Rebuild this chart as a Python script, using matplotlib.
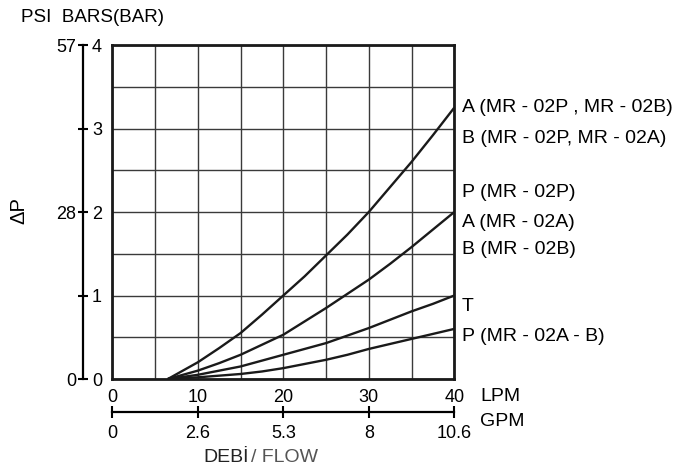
import numpy as np
import matplotlib.pyplot as plt

plt.rcParams['font.family'] = ['Liberation Sans', 'DejaVu Sans']

# flow (LPM) and pressure drop (bar)
flow_lpm = [6.5, 10, 12.5, 15, 17.5, 20, 22.5, 25, 27.5, 30, 32.5, 35, 37.5, 40]
dp_a = [0, 0.2, 0.37, 0.55, 0.77, 1.0, 1.23, 1.48, 1.73, 2.0, 2.3, 2.6, 2.92, 3.25]
dp_p = [0, 0.1, 0.19, 0.29, 0.41, 0.53, 0.69, 0.85, 1.02, 1.19, 1.38, 1.58, 1.79, 2.0]
dp_t = [0, 0.05, 0.1, 0.15, 0.22, 0.29, 0.36, 0.43, 0.52, 0.61, 0.71, 0.81, 0.9, 1.0]
dp_p2 = [0, 0.02, 0.04, 0.06, 0.09, 0.13, 0.18, 0.23, 0.29, 0.36, 0.42, 0.48, 0.54, 0.6]

lpm_ticks = [0, 10, 20, 30, 40]
gpm_labels = ['0', '2.6', '5.3', '8', '10.6']
bar_ticks = [0, 1, 2, 3, 4]
bar_labels = ['0', '1', '2', '3', '4']
psi_labels = ['0', '', '28', '', '57']

curve_labels = ['A (MR - 02P , MR - 02B)', 'B (MR - 02P, MR - 02A)',
                'P (MR - 02P)', 'A (MR - 02A)', 'B (MR - 02B)',
                'T', 'P (MR - 02A - B)']
label_y = [3.25, 2.886, 2.228, 1.88, 1.545, 0.868, 0.509]

W, H = 684, 473
fig = plt.figure(figsize=(W / 100, H / 100), dpi=100)
ax = fig.add_axes([112.3 / W, 1 - 379 / H, 342 / W, 334 / H])

for ys in [dp_a, dp_p, dp_t, dp_p2]:
    ax.plot(flow_lpm, ys, color='#1a1a1a', lw=1.7, solid_capstyle='butt', zorder=3)

ax.set_xlim(0, 40)
ax.set_ylim(0, 4)
ax.set_xticks(lpm_ticks)
ax.set_xticks(np.arange(5, 40, 10), minor=True)
ax.set_yticks(bar_ticks, labels=[])
ax.set_yticks(np.arange(0.5, 4, 1), minor=True)
ax.grid(True, which='both', color='#3a3a3a', lw=1.0)
ax.tick_params(which='both', length=0)
ax.tick_params(axis='x', pad=7, labelsize=13)
for s in ax.spines.values():
    s.set_linewidth(2.0)
    s.set_color('#1a1a1a')

# bar scale (left, detached)
sy = ax.secondary_yaxis(-0.0857)
sy.set_alignment('right')
sy.set_yticks(bar_ticks, labels=bar_labels)
sy.tick_params(direction='inout', length=7, width=1.5, pad=3, labelsize=13)
sy.spines['right'].set_linewidth(1.6)

# psi labels on the other side of the same line
sp = ax.secondary_yaxis(-0.0857)
sp.set_alignment('left')
sp.spines['left'].set_visible(False)
sp.set_yticks(bar_ticks, labels=psi_labels)
sp.tick_params(length=0, pad=5, labelsize=13)

# GPM scale below
sx = ax.secondary_xaxis(-0.099)
sx.set_xticks(lpm_ticks, labels=gpm_labels)
sx.tick_params(direction='inout', length=9, width=1.5, pad=5, labelsize=13)
sx.spines['bottom'].set_linewidth(1.6)

for txt, y in zip(curve_labels, label_y):
    ax.text(40.9, y, txt, ha='left', va='center', fontsize=14, clip_on=False)

fig.text(21 / W, 1 - 17 / H, 'PSI  BARS(BAR)', ha='left', va='center', fontsize=13.5)
fig.text(18.5 / W, 1 - 211 / H, 'ΔP', ha='center', va='center', rotation=90, fontsize=14.5)
fig.text(480 / W, 1 - 396 / H, 'LPM', ha='left', va='center', fontsize=14)
fig.text(480 / W, 1 - 421 / H, 'GPM', ha='left', va='center', fontsize=14)
fig.text(203 / W, 1 - 457 / H, 'DEBİ', ha='left', va='center', fontsize=14, color='#222222')
fig.text(251 / W, 1 - 457 / H, '/ FLOW', ha='left', va='center', fontsize=14, color='#555555')

fig.savefig('out.png', dpi=100)
